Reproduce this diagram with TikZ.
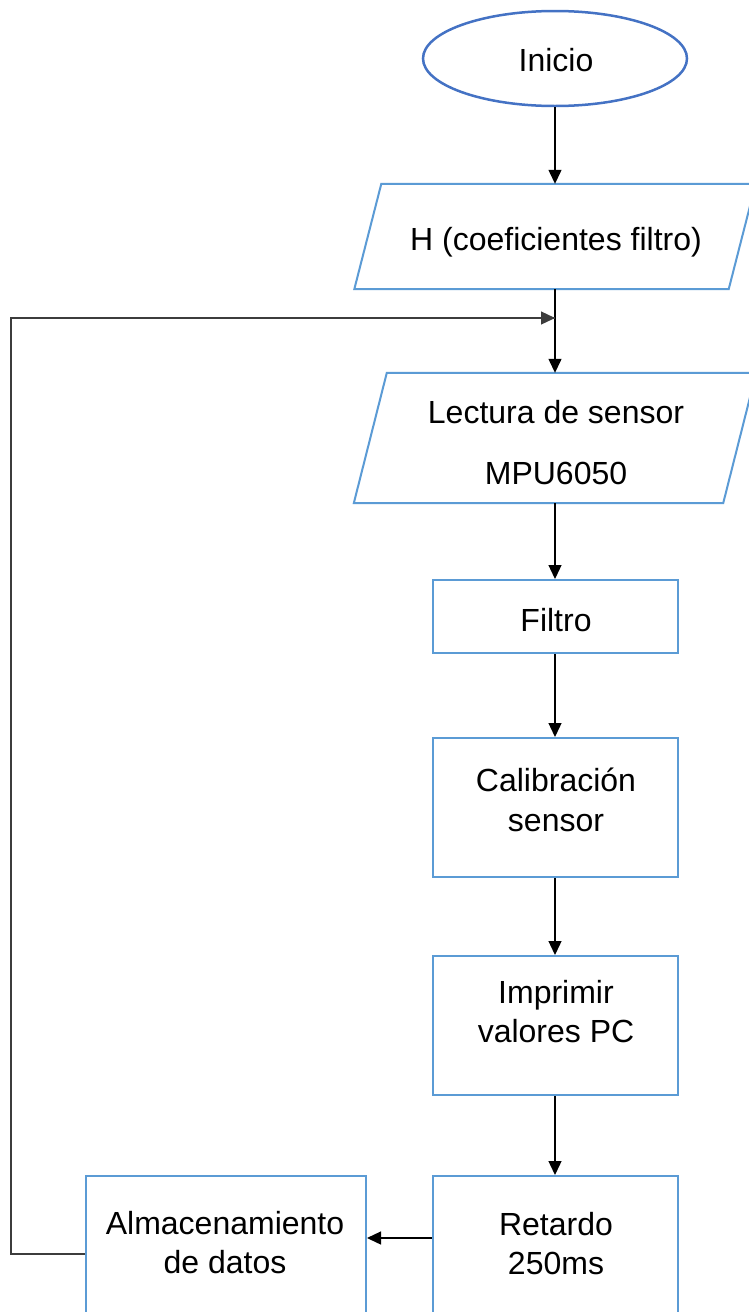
\documentclass[tikz,border=0pt]{standalone}
\usepackage{fontspec}
\setmainfont{Liberation Sans}
\usetikzlibrary{shapes.geometric,arrows.meta}
\definecolor{boxblue}{RGB}{91,155,213}
\definecolor{ellblue}{RGB}{68,114,196}
\definecolor{loopgray}{RGB}{60,60,60}
\tikzset{
  flowbox/.style={draw=boxblue, line width=2pt, rectangle, inner sep=0pt},
  ghost/.style={rectangle, inner sep=0pt},
  iobox/.style={draw=boxblue, line width=2pt},
  lbl/.style={anchor=base, inner sep=0pt, font=\fontsize{32}{38}\selectfont},
  arr/.style={line width=1.3pt, -{Triangle[length=14pt,width=13pt]}},
  loopline/.style={draw=loopgray, line width=1.5pt}
}
\begin{document}
\begin{tikzpicture}[x=1pt,y=-1pt]
\path[use as bounding box, clip] (0,0) rectangle (749,1312);
\fill[white] (0,0) rectangle (749,1312);

% Inicio
\node[ellipse, draw=ellblue, line width=2.5pt, minimum width=264pt, minimum height=95pt, inner sep=0pt] (Ini) at (555,58.5) {};
\node[lbl] (tIni) at (556,71) {Inicio};

% H parallelogram
\node[ghost, minimum width=374pt, minimum height=105pt] (H) at (555,236.5) {};
\draw[iobox] ([xshift=13.5pt]H.north west) -- ([xshift=13.5pt]H.north east)
  -- ([xshift=-13.5pt]H.south east) -- ([xshift=-13.5pt]H.south west) -- cycle;
\node[lbl] (tH) at (556,250) {H (coeficientes filtro)};

% Lectura parallelogram
\node[ghost, minimum width=369pt, minimum height=130pt] (Lec) at (555,438) {};
\draw[iobox] ([xshift=16.5pt]Lec.north west) -- ([xshift=16.5pt]Lec.north east)
  -- ([xshift=-16.5pt]Lec.south east) -- ([xshift=-16.5pt]Lec.south west) -- cycle;
\node[lbl] (tLec1) at (556,423) {Lectura de sensor};
\node[lbl] (tLec2) at (556,484) {MPU6050};

% Filtro
\node[flowbox, minimum width=245pt, minimum height=73pt] (Fil) at (555,616.5) {};
\node[lbl] (tFil) at (556,631) {Filtro};

% Calibracion
\node[flowbox, minimum width=245pt, minimum height=139pt] (Cal) at (555,807.5) {};
\node[lbl] (tCal1) at (556,791) {Calibración};
\node[lbl] (tCal2) at (556,831) {sensor};

% Imprimir
\node[flowbox, minimum width=245pt, minimum height=139pt] (Imp) at (555,1025.5) {};
\node[lbl] (tImp1) at (556,1003) {Imprimir};
\node[lbl] (tImp2) at (556,1042) {valores PC};

% Retardo
\node[flowbox, minimum width=245pt, minimum height=156pt] (Ret) at (555,1254) {};
\node[lbl] (tRet1) at (556,1235) {Retardo};
\node[lbl] (tRet2) at (556,1274) {250ms};

% Almacenamiento
\node[flowbox, minimum width=280pt, minimum height=156pt] (Alm) at (226,1254) {};
\node[lbl] (tAlm1) at (225,1234) {Almacenamiento};
\node[lbl] (tAlm2) at (225,1273) {de datos};

% connectors
\coordinate (J) at (555,318);
\draw[arr] (Ini.south) -- (H.north);
\draw[arr] (H.south) -- (Lec.north);
\draw[arr] (Lec.south) -- (Fil.north);
\draw[arr] (Fil.south) -- (Cal.north);
\draw[arr] (Cal.south) -- (Imp.north);
\draw[arr] (Imp.south) -- (Ret.north);
\draw[arr] ([yshift=16pt]Ret.west) -- ([yshift=16pt]Alm.east);
\draw[loopline] (Alm.west) -- ++(-74,0) coordinate (Lc) |- (J);
\draw[arr, draw=loopgray] ([xshift=-40pt]J) -- (J);
\end{tikzpicture}
\end{document}
